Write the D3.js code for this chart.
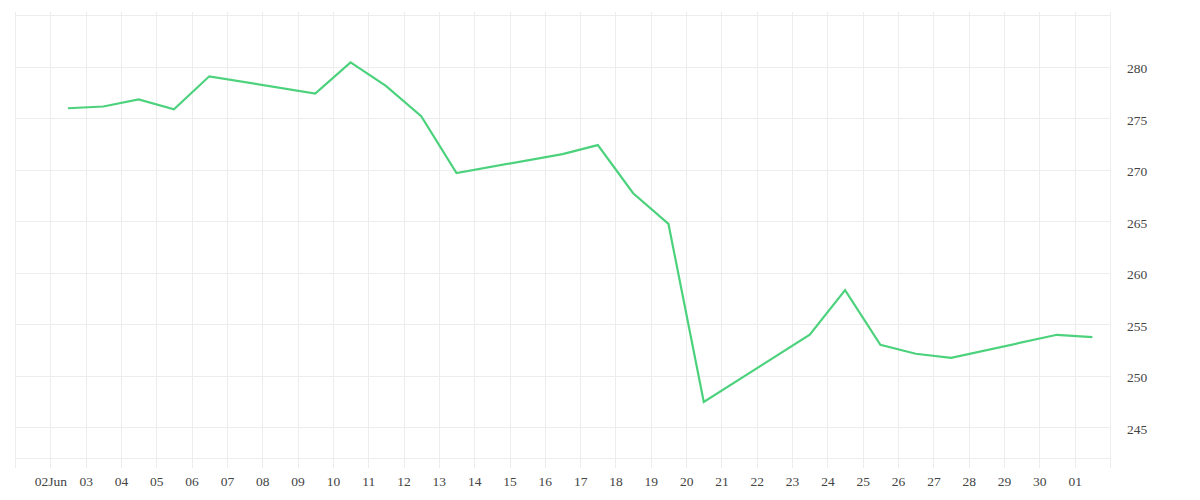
<!DOCTYPE html>
<html>
<head>
<meta charset="utf-8">
<script src="https://cdn.jsdelivr.net/npm/d3@7"></script>
<style>
  html, body { margin: 0; padding: 0; background: #ffffff; }
  svg { display: block; }
  svg text { font-family: "Liberation Serif", "DejaVu Serif", serif !important; }
</style>
</head>
<body>
<svg id="chart" width="1200" height="500"></svg>
<script>
// Data (trading days, plotted at midday)
const dates = [
  "2025-06-02", "2025-06-03", "2025-06-04", "2025-06-05", "2025-06-06",
  "2025-06-09", "2025-06-10", "2025-06-11", "2025-06-12", "2025-06-13",
  "2025-06-16", "2025-06-17", "2025-06-18", "2025-06-19", "2025-06-20",
  "2025-06-23", "2025-06-24", "2025-06-25", "2025-06-26", "2025-06-27",
  "2025-06-30", "2025-07-01"
];
const values = [
  275.95, 276.12, 276.80, 275.85, 279.05,
  277.38, 280.40, 278.12, 275.18, 269.66,
  271.50, 272.37, 267.70, 264.72, 247.44,
  253.96, 258.30, 252.98, 252.12, 251.72,
  253.96, 253.74
];
const yTickValues = [245, 250, 255, 260, 265, 270, 275, 280];
const xDomain = ["2025-06-01", "2025-07-02"];
const yDomain = [242, 285];

const svg = d3.select("#chart");
const mLeft = 15, mRight = 1110, mTop = 15, mBottom = 458;
const parse = d3.utcParse("%Y-%m-%d");

const x = d3.scaleUtc()
  .domain(xDomain.map(parse))
  .range([mLeft, mRight]);
const y = d3.scaleLinear()
  .domain(yDomain)
  .range([mBottom, mTop]);

const gridColor = "#ededed";
const textColor = "#444444";

// all day gridlines
const allDays = d3.utcDay.range(x.domain()[0], d3.utcDay.offset(x.domain()[1], 1));
svg.append("g")
  .selectAll("line")
  .data(allDays)
  .join("line")
  .attr("x1", d => Math.round(x(d)) + 0.5)
  .attr("x2", d => Math.round(x(d)) + 0.5)
  .attr("y1", mTop - 3)
  .attr("y2", mBottom + 10)
  .attr("stroke", gridColor)
  .attr("stroke-width", 1);

// horizontal gridlines
const hLines = [yDomain[1]].concat(yTickValues, [yDomain[0]]);
svg.append("g")
  .selectAll("line")
  .data(hLines)
  .join("line")
  .attr("x1", mLeft)
  .attr("x2", mRight)
  .attr("y1", d => Math.round(y(d)) + 0.5)
  .attr("y2", d => Math.round(y(d)) + 0.5)
  .attr("stroke", gridColor)
  .attr("stroke-width", 1);

// x axis labels
const xTicks = d3.utcDay.range(parse("2025-06-02"), parse("2025-07-02"));
const fmtDay = d3.utcFormat("%d");
const fmtFirst = d3.utcFormat("%d%b");
const xAxis = d3.axisBottom(x)
  .tickValues(xTicks)
  .tickSize(0)
  .tickPadding(0)
  .tickFormat((d, i) => i === 0 ? fmtFirst(d) : fmtDay(d));
const gx = svg.append("g")
  .attr("transform", `translate(0, ${mBottom + 18})`)
  .call(xAxis);
gx.select(".domain").remove();
gx.selectAll("text")
  .attr("font-size", "13.5px")
  .attr("fill", textColor);

// y axis labels (right)
const yAxis = d3.axisRight(y)
  .tickValues(yTickValues)
  .tickSize(0)
  .tickPadding(17)
  .tickFormat(d3.format("d"));
const gy = svg.append("g")
  .attr("transform", `translate(${mRight}, 2)`)
  .call(yAxis);
gy.select(".domain").remove();
gy.selectAll("text")
  .attr("font-size", "13.5px")
  .attr("fill", textColor);

// line
const data = dates.map((d, i) => ({ date: d3.utcHour.offset(parse(d), 12), value: values[i] }));
const line = d3.line()
  .x(d => x(d.date))
  .y(d => y(d.value));
svg.append("path")
  .datum(data)
  .attr("d", line)
  .attr("fill", "none")
  .attr("stroke", "#4cd27c")
  .attr("stroke-width", 2.2)
  .attr("stroke-linejoin", "miter");
</script>
</body>
</html>
